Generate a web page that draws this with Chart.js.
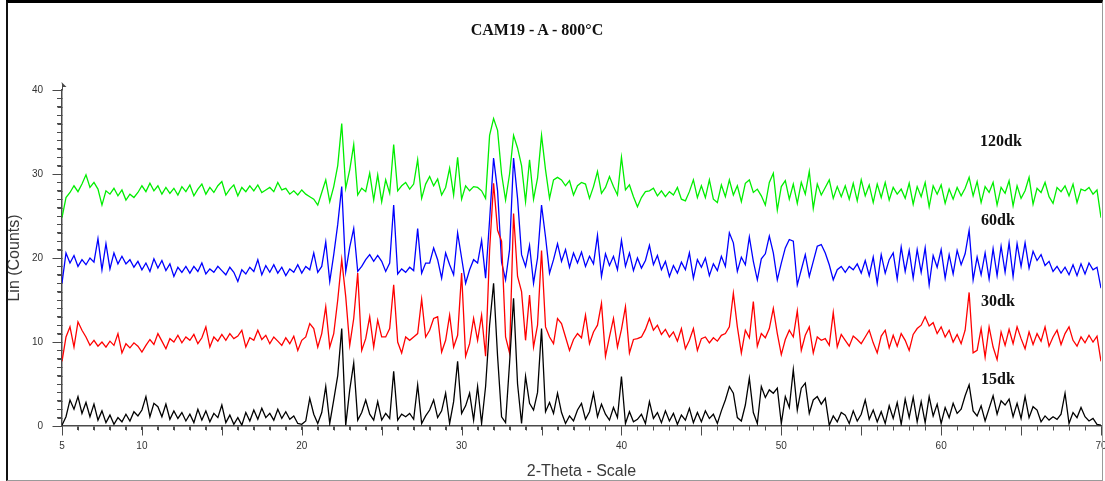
<!DOCTYPE html>
<html>
<head>
<meta charset="utf-8">
<title>CAM19 - A - 800°C</title>
<script src="https://cdn.jsdelivr.net/npm/chart.js@4.4.1/dist/chart.umd.min.js"></script>
<style>
  html, body { margin: 0; padding: 0; background: #fff; }
  #wrap { position: relative; width: 1105px; height: 481px; overflow: hidden; }
  #chart { position: absolute; left: 0; top: 0; }
  #frame { position: absolute; left: 6px; top: 0; width: 1094px; height: 477px;
           border-top: 3px solid #000; border-left: 2px solid #111;
           border-right: 1px solid #9a9a9a; border-bottom: 1px solid #9a9a9a; pointer-events: none; }
  .lbl { position: absolute; font-family: "Liberation Serif", "Times New Roman", serif; font-weight: bold;
         font-size: 16px; line-height: 16px; color: #111; white-space: nowrap; }
  #title { left: 0; width: 1074px; text-align: center; top: 22px; }
</style>
</head>
<body>
<div id="wrap">
  <canvas id="chart" width="1105" height="481"></canvas>
  <div id="title" class="lbl"></div>
  <div class="lbl" style="left:980px;top:133px">120dk</div>
  <div class="lbl" style="left:981px;top:212px">60dk</div>
  <div class="lbl" style="left:981px;top:293px">30dk</div>
  <div class="lbl" style="left:981px;top:371px">15dk</div>
  <div id="frame"></div>
</div>
<script>
"use strict";

// ─── Data (Lin counts, 0.25° steps from 5° to 70°) ───────────────────────────

const chartTitle = "CAM19 - A - 800°C";
const scanStart = 5;
const scanStep = 0.25;
const xLabelValues = [5, 10, 20, 30, 40, 50, 60, 70];
const yLabelValues = [0, 10, 20, 30, 40];

const counts15dk = [
  0.1, 1.1, 3.1, 2.0, 3.5, 1.5, 2.8, 1.1,
  2.6, 0.7, 1.8, 0.4, 1.3, 0.2, 1.0, 0.5,
  1.4, 0.6, 1.7, 1.2, 1.9, 3.5, 1.1, 2.7,
  2.3, 1.1, 2.6, 0.8, 1.8, 0.9, 1.6, 0.6,
  1.4, 0.4, 2.0, 0.7, 1.8, 0.5, 1.5, 1.0,
  2.5, 0.4, 1.3, 0.2, 1.0, 0.1, 1.6, 0.6,
  1.9, 0.8, 2.1, 1.0, 1.5, 0.7, 2.0, 0.9,
  1.7, 0.8, 1.2, 0.3, 0.2, 0.6, 3.3, 1.4,
  0.3, 1.6, 4.7, 0.3, 3.1, 6.0, 11.6, 0.1,
  4.3, 7.5, 0.7, 1.6, 3.1, 1.4, 0.7, 2.9,
  0.7, 1.5, 0.9, 6.5, 0.7, 1.4, 1.1, 1.5,
  0.8, 4.9, 0.3, 1.2, 1.9, 3.1, 1.0, 1.8,
  3.9, 0.3, 2.9, 7.7, 1.5, 2.4, 3.9, 0.7,
  4.7, 0.3, 4.7, 12.0, 17.0, 8.3, 1.1, 0.4,
  7.5, 15.2, 5.0, 0.3, 5.9, 2.7, 1.9, 4.0,
  11.6, 1.7, 2.8, 1.5, 3.9, 1.6, 0.3, 1.2,
  0.6, 1.9, 2.7, 0.8, 1.7, 3.9, 1.1, 2.6,
  1.4, 0.7, 2.2, 1.0, 5.9, 0.3, 1.7, 0.5,
  0.8, 1.4, 0.3, 2.9, 0.9, 1.6, 0.4, 1.8,
  0.6, 1.5, 0.2, 1.3, 0.7, 2.1, 0.4, 1.6,
  0.5, 1.8, 0.9, 1.4, 0.3, 1.8, 3.1, 4.7,
  3.9, 1.0, 0.6, 2.5, 5.7, 1.6, 0.3, 4.7,
  3.4, 4.3, 3.9, 4.5, 0.3, 3.5, 2.2, 6.7,
  1.9, 4.5, 5.1, 1.5, 3.1, 3.5, 2.6, 3.3,
  0.1, 1.2, 0.5, 1.6, 1.3, 0.3, 1.8, 0.6,
  1.4, 3.1, 0.8, 1.9, 0.5, 1.7, 0.3, 2.4,
  0.9, 2.8, 0.2, 3.2, 1.0, 3.4, 0.5, 2.9,
  0.4, 3.5, 1.2, 2.6, 0.3, 2.2, 1.0, 2.7,
  1.5, 2.0, 3.6, 4.9, 1.8, 1.2, 2.4, 0.6,
  2.1, 3.6, 1.4, 3.0, 2.5, 3.2, 1.1, 2.7,
  0.9, 3.5, 1.0, 2.3, 1.9, 0.5, 1.2, 0.7,
  1.1, 0.8, 1.4, 3.9, 0.3, 1.6, 1.0, 2.2,
  1.1, 0.6, 0.9, 0.2, 0.1
];

const counts30dk = [
  7.7, 10.6, 11.8, 9.4, 12.4, 11.4, 10.6, 9.6,
  10.2, 9.5, 10.0, 9.4, 10.1, 9.6, 11.0, 8.7,
  9.8, 9.3, 9.9, 9.5, 8.8, 9.6, 10.3, 9.7,
  11.0, 10.1, 9.2, 10.4, 10.0, 10.8, 9.9, 10.6,
  10.2, 10.9, 9.8, 10.5, 11.8, 9.4, 10.6, 10.1,
  10.9, 10.2, 11.0, 10.4, 10.7, 11.4, 9.4, 10.5,
  10.2, 11.4, 10.3, 10.8, 9.8, 10.6, 10.1, 9.6,
  10.5, 9.8, 10.7, 9.0, 10.2, 10.6, 12.2, 11.6,
  9.4, 11.0, 14.2, 9.4, 11.0, 15.0, 19.8, 15.4,
  9.6, 12.8, 18.2, 9.0, 10.4, 13.0, 9.4, 12.6,
  10.6, 10.6, 11.6, 16.8, 10.0, 8.7, 10.6, 10.2,
  10.6, 11.0, 15.1, 10.6, 11.4, 12.8, 13.0, 8.8,
  10.2, 13.2, 9.4, 10.8, 18.2, 8.3, 9.8, 12.8,
  10.2, 13.2, 8.3, 20.9, 28.9, 23.3, 22.0, 10.6,
  8.7, 25.3, 17.8, 16.0, 10.2, 15.6, 9.4, 12.0,
  20.9, 11.8, 10.6, 9.8, 12.8, 12.2, 10.6, 9.0,
  10.3, 11.0, 10.5, 13.2, 9.8, 11.2, 12.0, 14.6,
  8.3, 10.6, 12.8, 9.4, 11.5, 14.2, 8.7, 10.3,
  10.4, 10.6, 11.5, 12.8, 11.4, 12.0, 10.9, 11.5,
  10.6, 11.2, 10.1, 11.6, 9.2, 10.2, 11.6, 9.0,
  10.4, 10.6, 9.9, 10.5, 10.1, 10.8, 11.0, 11.8,
  15.8, 11.8, 8.7, 11.4, 10.5, 14.8, 9.5, 11.0,
  10.5, 11.6, 14.0, 11.0, 8.5, 10.3, 11.4, 10.6,
  13.7, 9.0, 10.8, 11.8, 8.7, 10.6, 10.2, 10.4,
  9.6, 13.5, 9.4, 10.9, 10.2, 9.5, 10.7, 10.3,
  9.8, 10.6, 11.4, 9.9, 8.7, 10.7, 11.4, 9.3,
  10.8, 9.5, 11.0, 10.2, 9.0, 10.9, 11.6, 12.0,
  13.0, 11.9, 12.3, 11.0, 11.8, 10.6, 11.4, 10.0,
  10.9, 9.8, 11.4, 15.9, 8.7, 9.0, 11.6, 8.2,
  11.8, 9.4, 7.9, 11.2, 9.6, 11.5, 9.8, 11.8,
  10.4, 9.2, 11.2, 9.7, 11.0, 10.1, 11.8, 9.5,
  10.6, 11.4, 9.7, 11.0, 11.8, 10.2, 9.5, 10.6,
  9.9, 10.8, 10.0, 10.7, 7.7
];

const counts60dk = [
  17.0, 20.6, 19.4, 20.3, 19.0, 19.8, 19.2, 20.0,
  19.5, 22.3, 18.6, 21.7, 18.7, 20.6, 19.3, 20.2,
  19.3, 19.8, 18.9, 19.6, 18.6, 19.4, 18.4, 19.9,
  18.8, 19.7, 18.5, 19.3, 17.8, 18.9, 18.3, 19.0,
  18.2, 19.0, 18.4, 19.4, 18.1, 18.7, 18.3, 19.0,
  18.5, 18.0, 18.9, 18.3, 17.2, 18.6, 18.1, 18.9,
  18.4, 19.8, 18.0, 19.1, 18.3, 19.2, 18.2, 18.9,
  17.9, 18.7, 18.3, 19.2, 18.2, 19.0, 18.6, 20.6,
  18.3, 19.0, 21.9, 17.2, 20.4, 24.0, 28.5, 18.4,
  21.3, 23.5, 18.4, 19.0, 19.8, 20.4, 19.6, 20.3,
  19.6, 18.4, 19.4, 26.3, 18.1, 18.7, 18.3, 18.9,
  18.5, 23.5, 18.2, 19.4, 19.4, 21.2, 19.8, 17.6,
  20.6, 19.2, 18.0, 23.0, 20.0, 17.0, 18.6, 19.8,
  19.4, 22.1, 17.6, 24.5, 31.9, 28.0, 19.5, 17.4,
  21.0, 31.9, 27.1, 20.4, 19.0, 21.5, 17.0, 20.0,
  26.3, 22.5, 18.2, 19.8, 21.7, 19.6, 21.0, 18.9,
  20.6, 19.4, 20.7, 19.0, 20.2, 19.3, 22.7, 17.8,
  20.5, 19.1, 20.2, 18.6, 22.1, 19.0, 20.6, 18.5,
  20.0, 18.8, 19.7, 21.5, 19.2, 20.3, 18.6, 19.6,
  17.8, 19.1, 18.2, 19.5, 18.6, 20.6, 17.6, 19.8,
  18.9, 20.0, 17.9, 19.3, 18.5, 20.2, 19.0, 23.0,
  21.8, 18.4, 20.1, 19.2, 22.5, 19.6, 17.4, 19.9,
  20.5, 22.6, 20.6, 17.4, 19.4, 21.2, 22.2, 22.0,
  16.8, 18.6, 20.4, 17.8, 19.6, 21.4, 21.6, 20.6,
  19.2, 17.4, 18.6, 19.0, 18.3, 19.0, 18.6, 19.3,
  18.2, 19.7, 17.9, 20.1, 17.0, 20.4, 18.2, 19.8,
  20.6, 17.5, 21.3, 18.4, 20.9, 17.6, 21.0, 18.3,
  21.2, 16.8, 20.3, 18.9, 21.0, 17.6, 20.4, 18.1,
  20.9, 19.2, 20.5, 23.3, 17.4, 20.1, 18.0, 20.6,
  17.5, 21.1, 17.9, 21.4, 18.3, 21.8, 17.8, 21.7,
  19.0, 21.8, 18.8, 20.8, 19.7, 20.4, 19.1, 19.6,
  18.4, 19.0, 18.2, 18.9, 18.0, 19.2, 17.9, 19.3,
  18.1, 19.4, 18.6, 18.9, 16.4
];

const counts120dk = [
  24.8, 27.2, 27.8, 28.6, 27.9, 28.8, 29.9, 28.4,
  29.0, 28.2, 26.3, 28.0, 27.6, 28.3, 27.4, 28.1,
  26.9, 27.6, 27.2, 27.8, 28.6, 27.9, 28.9, 28.0,
  28.6, 27.6, 28.4, 27.7, 28.3, 27.5, 28.5, 27.9,
  28.7, 27.4, 28.2, 28.8, 27.6, 28.4, 27.8, 28.6,
  29.1, 27.5, 28.2, 28.7, 27.4, 28.4, 27.9, 28.6,
  28.0, 28.7, 27.8, 28.1, 28.4, 27.9, 29.0, 28.1,
  28.3, 27.6, 28.0, 27.5, 28.1, 27.6, 27.3, 27.0,
  26.3, 27.8, 29.3, 26.7, 28.5, 31.0, 36.0, 28.3,
  30.5, 33.5, 27.5, 28.3, 27.9, 30.1, 26.9, 29.9,
  26.7, 29.3, 27.7, 33.5, 28.0, 28.6, 29.0, 28.2,
  28.8, 31.7, 27.1, 28.8, 29.7, 28.6, 29.4, 27.5,
  28.4, 30.7, 27.5, 32.0, 27.0, 28.6, 28.0, 28.5,
  28.4, 28.0, 27.1, 34.6, 36.6, 35.2, 30.0, 26.9,
  30.0, 34.6, 33.1, 31.0, 26.7, 31.7, 27.0, 29.5,
  34.6, 30.5, 27.1, 29.3, 29.6, 29.3, 28.6, 29.2,
  27.5, 28.6, 29.0, 28.8, 27.1, 28.5, 30.3, 27.7,
  28.4, 29.7, 28.5, 27.5, 32.0, 28.1, 28.7, 27.3,
  26.1, 27.2, 27.9, 28.0, 28.3, 27.4, 28.0, 27.3,
  27.9, 27.5, 28.4, 27.0, 26.8, 27.9, 29.3, 27.2,
  28.6, 27.2, 29.3, 27.0, 26.6, 28.7, 27.3, 29.3,
  27.5, 28.6, 26.7, 28.9, 29.3, 27.8, 28.2, 27.4,
  26.3, 29.0, 30.1, 25.7, 28.5, 29.2, 27.0, 28.8,
  26.5, 29.0, 27.6, 30.3, 25.9, 28.8, 27.5, 28.4,
  29.3, 27.1, 28.5, 27.3, 28.6, 27.0, 28.9, 26.8,
  29.3, 27.4, 28.7, 26.6, 28.8, 27.2, 29.0, 26.9,
  28.4, 27.6, 28.2, 27.1, 28.9, 26.4, 28.5, 27.3,
  29.0, 26.1, 28.6, 27.6, 28.7, 26.5, 28.2, 27.0,
  28.4, 27.4, 28.3, 29.6, 27.4, 29.1, 26.6, 28.5,
  27.8, 29.0, 26.3, 28.4, 27.7, 29.2, 26.2, 28.6,
  27.1, 28.0, 29.6, 26.4, 28.3, 27.8, 29.0, 27.3,
  26.5, 28.4, 27.9, 28.6, 27.4, 28.8, 26.6, 28.2,
  28.0, 28.4, 27.6, 28.1, 24.8
];

// ─── Helpers ────────────────────────────────────────────────────────────────

const AXIS_COLOR = "#4a4a4a";
const TEXT_COLOR = "#333";
const SANS = "'Liberation Sans', Arial, sans-serif";

function toPoints(values) {
  return values.map((y, i) => ({ x: scanStart + i * scanStep, y }));
}

function wholeSteps(from, to) {
  const out = [];
  for (let v = from; v <= to; v++) out.push({ value: v });
  return out;
}

// Tick marks (short every unit, longer on the majors) and the arrow on the y axis.
const axisExtras = {
  id: "axisExtras",
  afterDraw(chart) {
    const { ctx, scales: { x, y } } = chart;
    const left = Math.round(x.left) + 0.5;
    const bottom = Math.round(y.bottom) + 0.5;
    ctx.save();
    ctx.strokeStyle = AXIS_COLOR;
    ctx.fillStyle = AXIS_COLOR;
    ctx.lineWidth = 1;
    ctx.beginPath();
    for (let v = 0; v <= 40; v++) {
      const py = Math.round(y.getPixelForValue(v)) + 0.5;
      const len = v % 10 === 0 ? 10 : 5;
      ctx.moveTo(left - len, py); ctx.lineTo(left, py);
    }
    for (let v = 5; v <= 70; v++) {
      const px = Math.round(x.getPixelForValue(v)) + 0.5;
      const len = v % 5 === 0 ? 9 : 4;
      ctx.moveTo(px, bottom); ctx.lineTo(px, bottom + len);
    }
    const top = Math.round(y.top);
    ctx.moveTo(left, top); ctx.lineTo(left, top - 6);
    ctx.stroke();
    ctx.beginPath();
    ctx.moveTo(left - 1, top - 8);
    ctx.lineTo(left + 4, top - 3);
    ctx.lineTo(left, top - 3);
    ctx.closePath();
    ctx.fill();
    ctx.restore();
  },
};

// ─── Chart ──────────────────────────────────────────────────────────────────

document.getElementById("title").textContent = chartTitle;

const line = (label, values, color) => ({
  label,
  data: toPoints(values),
  borderColor: color,
  borderWidth: 1.3,
  pointRadius: 0,
  tension: 0,
  fill: false,
});

new Chart(document.getElementById("chart"), {
  type: "line",
  data: {
    datasets: [
      line("15dk", counts15dk, "#000000"),
      line("30dk", counts30dk, "#ff0000"),
      line("60dk", counts60dk, "#0000ff"),
      line("120dk", counts120dk, "#00ee00"),
    ],
  },
  options: {
    responsive: false,
    animation: false,
    events: [],
    layout: { padding: { left: 0, right: 4, top: 90, bottom: 0 } },
    plugins: { legend: { display: false }, tooltip: { enabled: false }, title: { display: false } },
    scales: {
      x: {
        type: "linear",
        min: 5,
        max: 70,
        afterBuildTicks: (s) => { s.ticks = wholeSteps(5, 70); },
        afterFit: (s) => { s.height = 55; s.paddingLeft = 0; s.paddingRight = 0; },
        ticks: {
          autoSkip: false,
          maxRotation: 0,
          minRotation: 0,
          padding: 10,
          color: TEXT_COLOR,
          font: { family: SANS, size: 10 },
          callback: (v) => (xLabelValues.includes(v) ? String(v) : ""),
        },
        grid: { drawOnChartArea: false, drawTicks: true, tickLength: 4, tickColor: AXIS_COLOR },
        border: { display: true, color: AXIS_COLOR, width: 1.5 },
        title: {
          display: true,
          text: "2-Theta - Scale",
          color: "#3a3a3a",
          font: { family: SANS, size: 16 },
          padding: { top: 0, bottom: 0 },
        },
      },
      y: {
        min: 0,
        max: 40,
        afterBuildTicks: (s) => { s.ticks = wholeSteps(0, 40); },
        afterFit: (s) => { s.width = 62; s.paddingTop = 0; s.paddingBottom = 0; },
        ticks: {
          autoSkip: false,
          padding: 14,
          color: TEXT_COLOR,
          font: { family: SANS, size: 10 },
          callback: (v) => (yLabelValues.includes(v) ? String(v) : ""),
        },
        grid: { drawOnChartArea: false, drawTicks: true, tickLength: 5, tickColor: AXIS_COLOR },
        border: { display: true, color: AXIS_COLOR, width: 1.5 },
        title: {
          display: true,
          text: "Lin (Counts)",
          color: "#3a3a3a",
          font: { family: SANS, size: 16 },
          padding: { top: 5, bottom: 0 },
        },
      },
    },
  },
  plugins: [axisExtras],
});
</script>
</body>
</html>
